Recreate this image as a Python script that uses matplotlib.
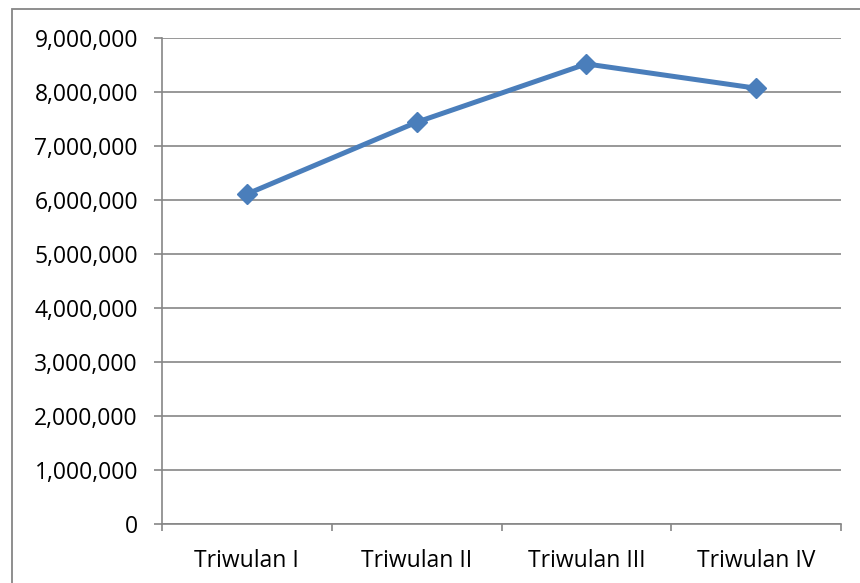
import matplotlib.pyplot as plt
from matplotlib.patches import Rectangle
from matplotlib.ticker import FuncFormatter

# quarterly totals
quarters = ["Triwulan I", "Triwulan II", "Triwulan III", "Triwulan IV"]
totals = [6110000, 7440000, 8520000, 8070000]
y_ticks = [0, 1000000, 2000000, 3000000, 4000000, 5000000,
           6000000, 7000000, 8000000, 9000000]

plt.rcParams["font.family"] = ["Open Sans", "DejaVu Sans"]
GRAY = "#868686"
BLUE = "#4A7EBB"

fig = plt.figure(figsize=(8.6, 5.83), dpi=100)
ax = fig.add_axes([162/860, 59/583, 679/860, 486/583])

# outer chart border
fig.patches.append(Rectangle((12/860, -0.1), 1.2, 1 - 9/583 + 0.1,
                             transform=fig.transFigure, fill=False,
                             ec=GRAY, lw=1.3))

x = range(len(quarters))
ax.plot(x, totals, color=BLUE, lw=3.6, marker="D", ms=10, zorder=3)

ax.set_xlim(-0.5, len(quarters) - 0.5)
ax.set_ylim(0, 9000000)
ax.set_yticks(y_ticks)
ax.yaxis.set_major_formatter(FuncFormatter(lambda v, p: f"{int(v):,}"))
ax.set_xticks(list(x))
ax.set_xticklabels(quarters)
ax.set_xticks([i - 0.5 for i in range(len(quarters) + 1)], minor=True)

ax.grid(axis="y", color=GRAY, lw=1.2)
ax.set_axisbelow(True)
for s in ["top", "right"]:
    ax.spines[s].set_visible(False)
for s in ["left", "bottom"]:
    ax.spines[s].set_color(GRAY)
    ax.spines[s].set_linewidth(1.2)

ax.tick_params(axis="y", length=5.8, color=GRAY, width=1.2, pad=11.5, labelsize=16.5)
ax.tick_params(axis="x", which="major", length=0, pad=18, labelsize=16.5)
ax.tick_params(axis="x", which="minor", length=5, color=GRAY, width=1.2)

fig.savefig("out.png", dpi=100)
